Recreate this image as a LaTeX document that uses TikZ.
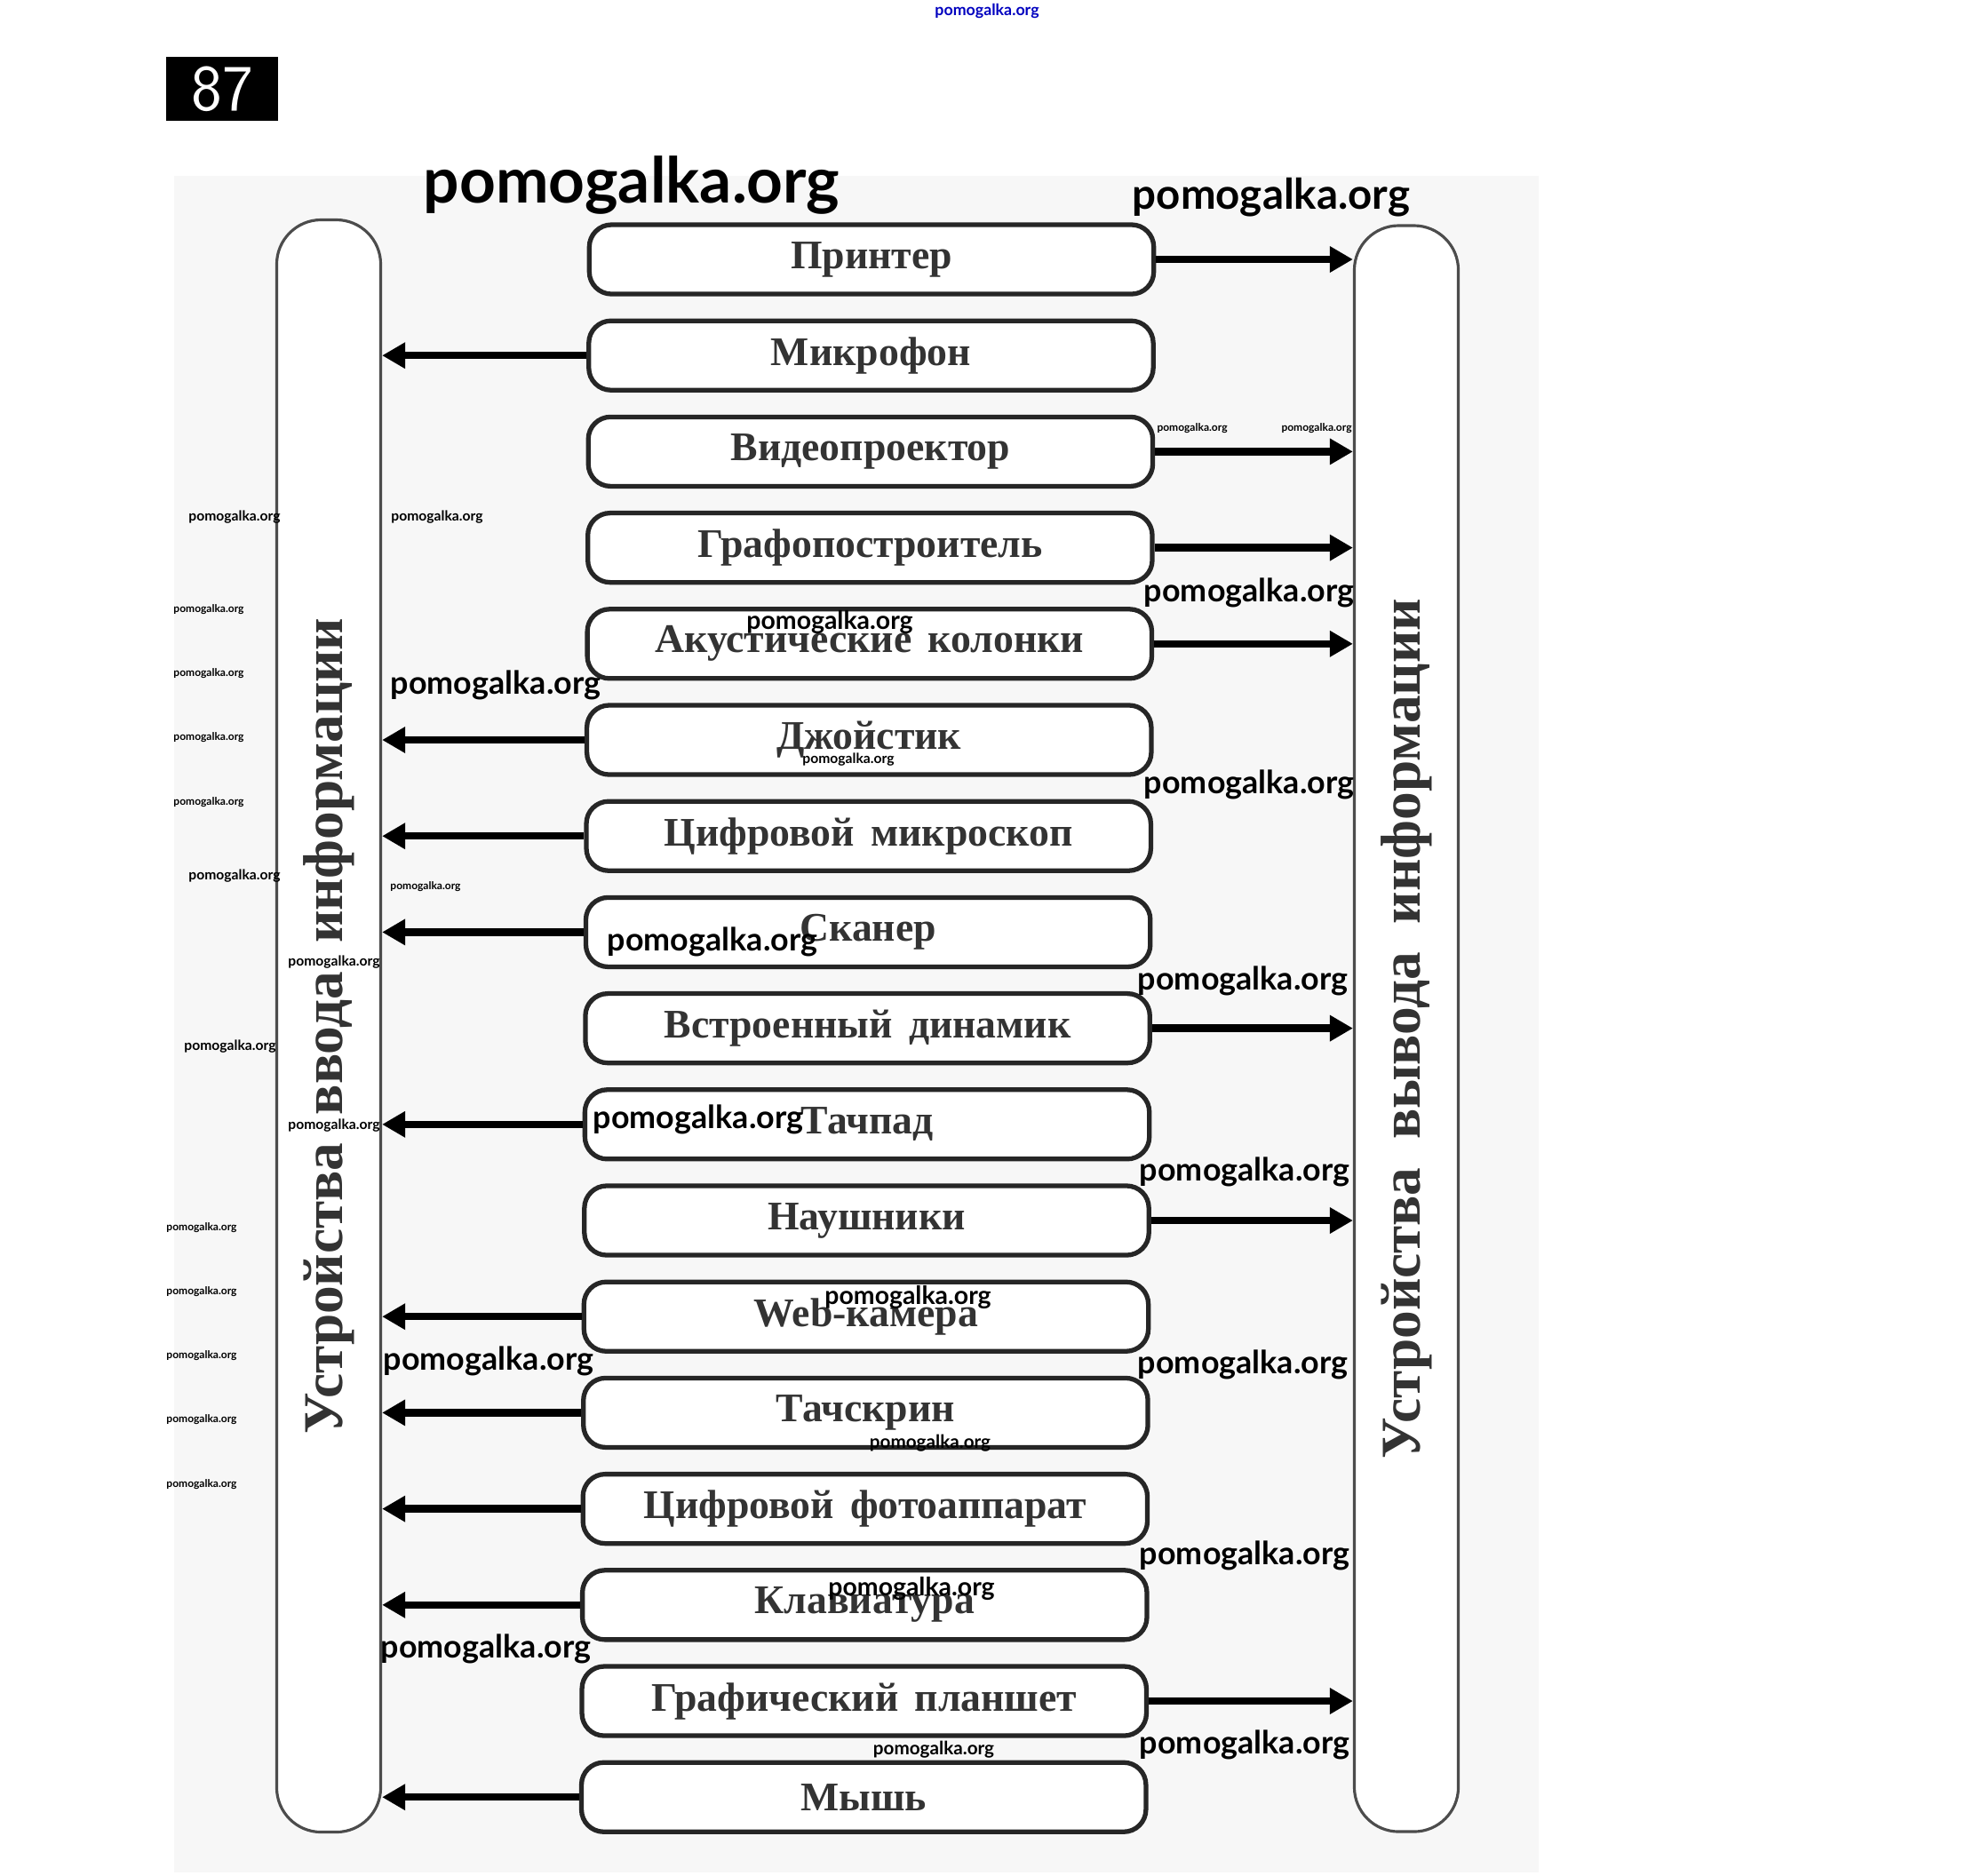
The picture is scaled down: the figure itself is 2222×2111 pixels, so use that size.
\documentclass[tikz,border=0pt]{standalone}
\usepackage{fontspec}
\usepackage{graphicx}
\usetikzlibrary{arrows.meta}
\newfontfamily\serfont{Liberation Serif}
\newfontfamily\wmfont{Lato}
\begin{document}
\begin{tikzpicture}[x=0.01cm, y=-0.01cm,
  device/.style={draw=black!85, fill=white, line width=1.5pt, rounded corners=0.25cm, minimum width=6.35cm, minimum height=0.78cm, inner sep=0pt, text=black!80, font=\serfont\bfseries\fontsize{13}{15}\selectfont},
  group/.style={draw=black!70, fill=white, line width=0.9pt, rounded corners=0.5cm, rotate=90, minimum height=1.17cm, inner sep=0pt, text=black!80, font=\serfont\bfseries\fontsize{18}{20}\selectfont},
  link/.style={line width=2.4pt, -{Triangle[length=0.26cm, width=0.28cm]}},
  wm/.style={inner sep=0pt, font=\wmfont\bfseries}]
	\useasboundingbox (0,0) rectangle (2222,2111);
	\fill[black!3] (196,198) rectangle (1732,2108);
	\node[fill=black, text=white, minimum width=1.25cm, minimum height=0.71cm, inner sep=0pt, font=\sffamily\fontsize{21}{21}\selectfont] (num) at (250,100) {87};
	\node[group, minimum width=18.14cm] (input) at (370,1155) {Устройства\hspace{0.5em}ввода\hspace{0.5em}информации};
	\node[group, minimum width=18.07cm] (output) at (1583,1158) {Устройства\hspace{0.5em}вывода\hspace{0.5em}информации};
	\foreach \lbl [count=\i] in {Принтер, Микрофон, Видеопроектор, Графопостроитель, Акустические\hspace{0.4em}колонки, Джойстик, Цифровой\hspace{0.4em}микроскоп, Сканер, Встроенный\hspace{0.4em}динамик, Тачпад, Наушники, Web-камера, Тачскрин, Цифровой\hspace{0.4em}фотоаппарат, Клавиатура, Графический\hspace{0.4em}планшет, Мышь} {
		\pgfmathsetmacro\xx{981-0.55*(\i-1)}
		\pgfmathsetmacro\yy{292+108.2*(\i-1)}
		\node[device] (d\i) at (\xx,\yy) {\raisebox{-2pt}{\lbl}};
	}
	\foreach \i in {1,3,4,5,9,11,16}
		\draw[link] (d\i.east) -- (d\i.east -| output.north);
	\foreach \i in {2,6,7,8,10,12,13,14,15,17}
		\draw[link] (d\i.west) -- (d\i.west -| input.south);
	% watermarks
	\node[wm, text=blue!75!black] (wm0) at (1111,12) {\resizebox{1.17cm}{!}{pomogalka.org}};
	\foreach \xx/\yy/\ww [count=\k] in {711/208/4.68, 1431/222/3.12,
		1406/667/2.36, 558/771/2.36, 1406/883/2.36, 802/1060/2.36, 1399/1104/2.36, 786/1260/2.36, 1401/1319/2.36, 550/1532/2.36, 1399/1536/2.36, 1401/1751/2.36, 547/1856/2.36, 1401/1964/2.36,
		934/700/1.87, 1022/1460/1.87, 1026/1788/1.87, 1047/1625/1.36, 1051/1970/1.36,
		264/582/1.03, 492/582/1.03, 264/986/1.03, 376/1083/1.03, 259/1178/1.03, 376/1267/1.03, 955/855/1.03,
		235/686/0.79, 235/758/0.79, 235/830/0.79, 235/903/0.79, 479/998/0.79, 227/1382/0.79, 227/1454/0.79, 227/1526/0.79, 227/1598/0.79, 227/1671/0.79, 1342/482/0.79, 1482/482/0.79}
		\node[wm] (wm\k) at (\xx,\yy) {\resizebox{\ww cm}{!}{pomogalka.org}};
\end{tikzpicture}
\end{document}
